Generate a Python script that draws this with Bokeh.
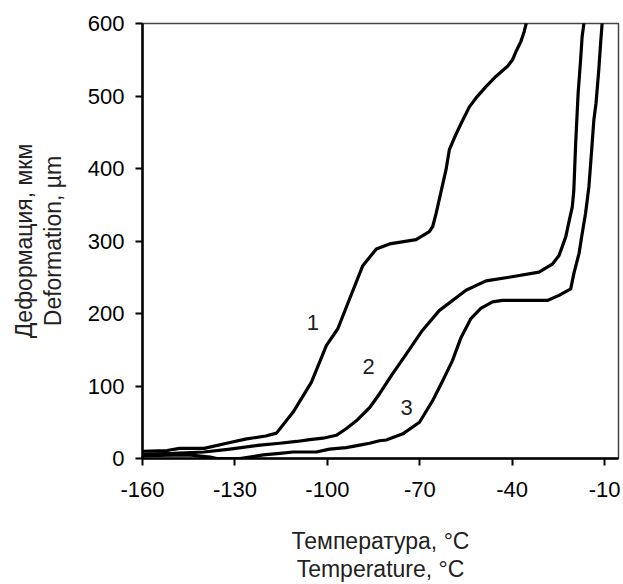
import numpy as np
from bokeh.plotting import figure
from bokeh.models import Label, FixedTicker, Range1d, LinearAxis
from bokeh.embed import file_html
from bokeh.resources import INLINE

# ---- data ----
t1 = [-160, -152, -148, -140, -131.6, -126.2, -120, -116.5, -111.1, -105.2, -100.3, -96.6, -92.8,
      -88.5, -84.1, -79.8, -71.2, -66.9, -65.8, -64.7, -63.1, -61.5, -60.4, -58.8, -56.6, -53.9,
      -51.8, -48.5, -45.3, -41.5, -39.9, -38.8, -37.2, -36.1, -35.4]
d1 = [10, 11, 14, 14, 22, 27, 31, 35, 64, 105, 156, 179, 220,
      266, 289, 296, 302, 313, 320, 338, 368, 398, 426, 442, 462, 485,
      497, 513, 527, 541, 550, 561, 575, 589, 601]

t2 = [-160, -150, -140, -131.6, -121.9, -115.4, -110, -105.7, -101.4, -97.1, -93.9, -90.6, -86.3,
      -83.1, -78.8, -74.4, -69.1, -63.7, -55.0, -48.5, -41.0, -31.3, -27.0, -24.8, -22.6, -21.6,
      -20.5, -20.0, -19.4, -18.6, -17.8, -17.3, -16.7]
d2 = [6, 7, 9, 13, 18.5, 21, 23.5, 26, 28, 32, 41, 52, 70,
      89, 117, 144, 177, 204, 232, 245, 250, 257, 268, 280, 306, 326,
      347, 370, 435, 504, 550, 582, 601]

t3 = [-160, -145, -138, -135.9, -128.4, -120.8, -115.4, -111.1, -103.6, -99.3, -93.9, -89.5, -86.3,
      -83.1, -80.9, -75.5, -70.1, -65.8, -62.6, -59.4, -56.6, -53.4, -50.2, -46.4, -43.2, -28.6,
      -24.8, -21.0, -20.0, -18.3, -17.3, -16.2, -15.1, -14.2, -13.5, -12.8, -11.9, -11.3, -10.8]
d3 = [4, 5, 2, 0, 0, 5, 7, 9, 9, 13, 15, 18.5, 21,
      24.5, 25.5, 34, 50, 80, 107, 135, 167, 193, 207, 216, 218, 218,
      225, 234, 255, 283, 310, 338, 375, 426, 467, 490, 536, 573, 601]

curve_labels = ["1", "2", "3"]
label_t = [-104.7, -86.6, -74.3]
label_d = [188, 127, 70]

x_ticks = [-160, -130, -100, -70, -40, -10]
y_ticks = [0, 100, 200, 300, 400, 500, 600]
x_title = ["Температура, °C", "Temperature, °C"]
y_title = ["Деформация, мкм", "Deformation, µm"]

FONT = "Liberation Sans"
TICK_FS = "22px"
TITLE_FS = "23px"

p = figure(width=623, height=584, output_backend="svg", toolbar_location=None,
           x_range=Range1d(-160, -5.5), y_range=Range1d(0, 600),
           min_border_left=142, min_border_right=5, min_border_top=23, min_border_bottom=126)
p.grid.visible = False
p.background_fill_color = "white"
p.border_fill_color = "white"
p.outline_line_color = "#444444"
p.outline_line_width = 1.5

for ax in (p.xaxis[0], p.yaxis[0]):
    ax.axis_line_color = "black"
    ax.axis_line_width = 2.5
    ax.major_tick_line_color = "black"
    ax.major_tick_line_width = 2
    ax.major_tick_in = 0
    ax.major_tick_out = 7
    ax.minor_tick_line_color = None
    ax.major_label_text_font = FONT
    ax.major_label_text_font_size = TICK_FS
    ax.major_label_text_color = "black"
    ax.axis_label_text_font = FONT
    ax.axis_label_text_font_size = TITLE_FS
    ax.axis_label_text_font_style = "normal"
    ax.axis_label_text_color = "#222222"

p.xaxis[0].ticker = FixedTicker(ticks=x_ticks)
p.yaxis[0].ticker = FixedTicker(ticks=y_ticks)
p.xaxis[0].major_label_overrides = {t: str(t) for t in x_ticks}
p.yaxis[0].major_label_overrides = {t: str(t) for t in y_ticks}
p.xaxis[0].major_label_standoff = 16
p.yaxis[0].major_label_standoff = 11
p.xaxis[0].axis_label = x_title[0]
p.xaxis[0].axis_label_standoff = 28
p.yaxis[0].axis_label = y_title[1]
p.yaxis[0].axis_label_standoff = 19

# second title lines as label-only axes
xa2 = LinearAxis(ticker=FixedTicker(ticks=[]), axis_line_color=None,
                 major_tick_line_color=None, minor_tick_line_color=None,
                 major_label_text_font_size="0px", axis_label=x_title[1],
                 axis_label_text_font=FONT, axis_label_text_font_size=TITLE_FS,
                 axis_label_text_font_style="normal", axis_label_text_color="#222222",
                 axis_label_standoff=-1)
p.add_layout(xa2, "below")
ya2 = LinearAxis(ticker=FixedTicker(ticks=[]), axis_line_color=None,
                 major_tick_line_color=None, minor_tick_line_color=None,
                 major_label_text_font_size="0px", axis_label=y_title[0],
                 axis_label_text_font=FONT, axis_label_text_font_size=TITLE_FS,
                 axis_label_text_font_style="normal", axis_label_text_color="#222222",
                 axis_label_standoff=0)
p.add_layout(ya2, "left")

for t, d in ((t1, d1), (t2, d2), (t3, d3)):
    p.line(t, d, line_color="black", line_width=3.2, line_join="round")

for s, tx, dy in zip(curve_labels, label_t, label_d):
    p.add_layout(Label(x=tx, y=dy, text=s, text_font=FONT, text_font_size="22px",
                       text_color="#222222", text_align="center", text_baseline="middle"))

open("out.html", "w").write(file_html(p, INLINE))
